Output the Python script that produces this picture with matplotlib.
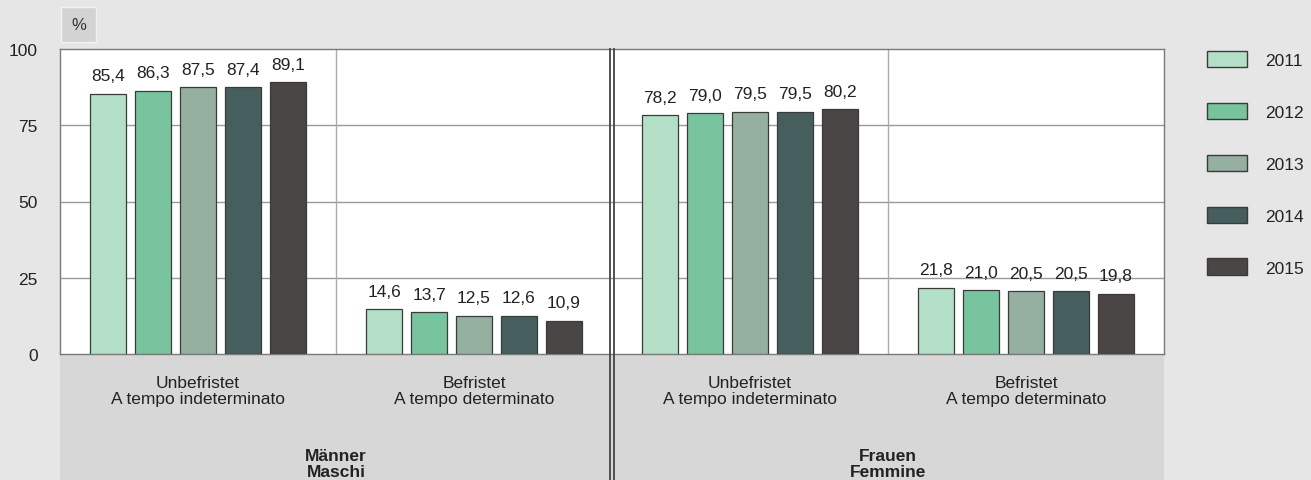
import matplotlib
matplotlib.use("Agg")
import matplotlib.pyplot as plt
from matplotlib.patches import Rectangle, Patch
import numpy as np

plt.rcParams['font.family'] = ['Liberation Sans', 'DejaVu Sans']

years = ["2011", "2012", "2013", "2014", "2015"]
colors = ["#b3dfc6", "#78c49e", "#95b0a0", "#465e5e", "#4a4645"]
categories = ["Unbefristet\nA tempo indeterminato", "Befristet\nA tempo determinato",
              "Unbefristet\nA tempo indeterminato", "Befristet\nA tempo determinato"]
groups = ["Männer\nMaschi", "Frauen\nFemmine"]
values = {
    "2011": [85.4, 14.6, 78.2, 21.8],
    "2012": [86.3, 13.7, 79.0, 21.0],
    "2013": [87.5, 12.5, 79.5, 20.5],
    "2014": [87.4, 12.6, 79.5, 20.5],
    "2015": [89.1, 10.9, 80.2, 19.8],
}
yticks = [0, 25, 50, 75, 100]

W, H = 1311, 481
fig = plt.figure(figsize=(W / 100, H / 100), dpi=100)
fig.patch.set_facecolor("#e6e6e6")

L, R, T, B = 60, 1164, 50, 355
ax = fig.add_axes([L / W, 1 - B / H, (R - L) / W, (B - T) / H])
ax.set_facecolor("white")

# grey band below axes
fig.patches.append(Rectangle((L / W, 0), (R - L) / W, 1 - B / H, transform=fig.transFigure,
                             facecolor="#d7d7d7", edgecolor="none", zorder=-1))

x = np.arange(len(categories)) + 0.5
step = 0.163
width = 0.127
for j, y in enumerate(years):
    pos = x + (j - 2) * step
    bars = ax.bar(pos, values[y], width, color=colors[j], edgecolor="#3a3a3a", linewidth=0.9, zorder=3)
    for b, v in zip(bars, values[y]):
        ax.annotate(f"{v:.1f}".replace(".", ","), (b.get_x() + b.get_width() / 2, v),
                    xytext=(0, 7.5), textcoords="offset points", ha="center", va="bottom",
                    fontsize=12.5, color="#222222")

ax.set_xlim(0, 4)
ax.set_ylim(0, 100)
ax.set_yticks(yticks)
ax.set_yticklabels([str(t) for t in yticks], fontsize=12.5, color="#222222")
ax.tick_params(axis="y", length=0, pad=16)
ax.set_xticks([])
for yy in yticks[1:-1]:
    ax.axhline(yy, color="#9a9a9a", linewidth=1, zorder=1)
for xx in [1, 3]:
    ax.axvline(xx, color="#aaaaaa", linewidth=1, zorder=1)
for s in ax.spines.values():
    s.set_color("#7a7a7a")
    s.set_linewidth(1)

# double separator between groups, extends through band
for dx in (-1.6, 1.6):
    xf = (L + (R - L) / 2 + dx) / W
    fig.add_artist(plt.Line2D([xf, xf], [0, 1 - T / H], transform=fig.transFigure,
                              color="#444444", linewidth=1.3, zorder=5))

# category labels
for xi, c in zip(x, categories):
    ax.text(xi, -6.8, c, ha="center", va="top", fontsize=12.5, color="#222222",
            linespacing=1.12, clip_on=False)
for gi, g in enumerate(groups):
    ax.text(1 + 2 * gi, -30.8, g, ha="center", va="top", fontsize=12.5, fontweight="bold",
            color="#222222", linespacing=1.08, clip_on=False)

# % box
fig.text(78.5 / W, 1 - 25 / H, "%", ha="center", va="center", fontsize=12, color="#333333",
         bbox=dict(boxstyle="square,pad=0.6", facecolor="#d3d3d3", edgecolor="#f2f2f2", linewidth=1))

handles = [Patch(facecolor=c, edgecolor="#3a3a3a", linewidth=1, label=y) for c, y in zip(colors, years)]
fig.legend(handles=handles, loc="upper left", bbox_to_anchor=(1191 / W, 1 - 36 / H), frameon=False,
           fontsize=12.5, handlelength=2.3, handleheight=1.1, labelspacing=2.0, handletextpad=1.05,
           labelcolor="#222222")

fig.savefig("out.png", dpi=100, facecolor=fig.get_facecolor())
